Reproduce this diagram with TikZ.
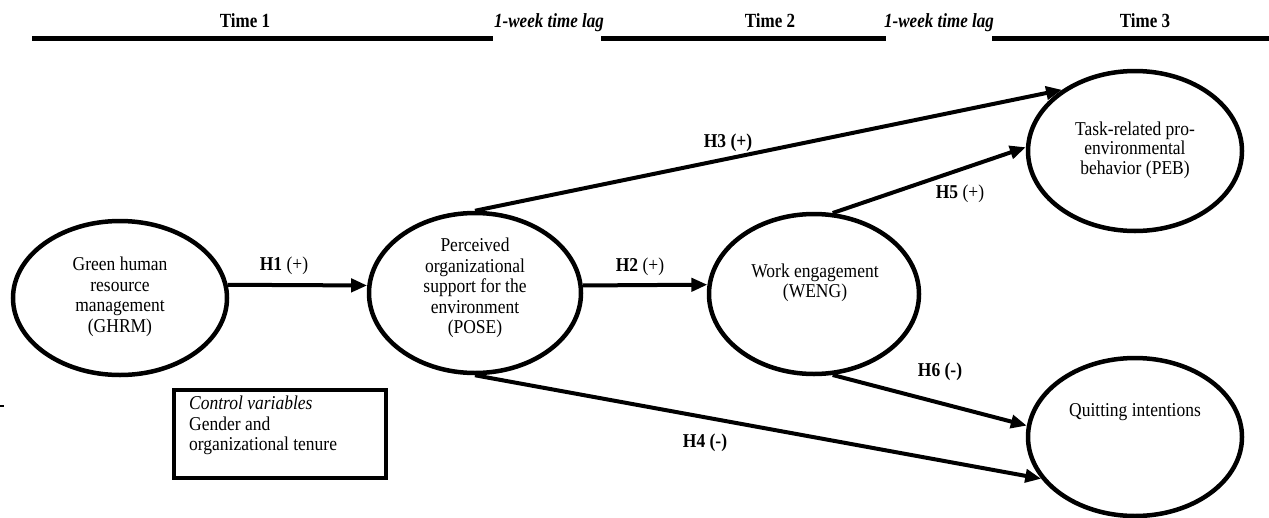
\documentclass[tikz,border=0pt]{standalone}
\usepackage{fontspec}
\usepackage{graphicx}
\setmainfont{Liberation Serif}
\usetikzlibrary{shapes.geometric,arrows.meta}
\newcommand{\tallbody}[1]{\scalebox{1}[1.12]{#1}}
\newcommand{\tallhead}[1]{\scalebox{1}[1.18]{#1}}
\begin{document}
\begin{tikzpicture}[x=1pt,y=-1pt,
  ell/.style={draw, ellipse, line width=4.5pt, inner sep=0pt},
  lbl/.style={font=\fontsize{17.5}{20.5}\selectfont, align=center, inner sep=0pt},
  arr/.style={line width=4pt, -{Triangle[length=16pt,width=13pt]}},
  bar/.style={line width=5pt},
  hd/.style={font=\fontsize{17}{20}\selectfont\bfseries, inner sep=0pt, anchor=base},
  hdi/.style={font=\fontsize{17}{20}\selectfont\bfseries\itshape, inner sep=0pt, anchor=base},
  ]
\useasboundingbox (0,0) rectangle (1269,517);

% time headings
\node[hd]  (t1)   at (245,27) {\tallhead{Time 1}};
\node[hdi] (lag1) at (549,27) {\tallhead{1-week time lag}};
\node[hd]  (t2)   at (770,27) {\tallhead{Time 2}};
\node[hdi] (lag2) at (939,27) {\tallhead{1-week time lag}};
\node[hd]  (t3)   at (1145,27) {\tallhead{Time 3}};
\draw[bar] (32,38) -- (493,38);
\draw[bar] (601,38) -- (886,38);
\draw[bar] (992,38) -- (1269,38);

% ellipses
\node[ell, minimum width=214pt, minimum height=154pt] (ghrm) at (120,298) {};
\node[ell, minimum width=212pt, minimum height=160pt] (pose) at (475,293) {};
\node[ell, minimum width=210pt, minimum height=160pt] (weng) at (814,294) {};
\node[ell, minimum width=214pt, minimum height=160pt] (peb)  at (1135,151) {};
\node[ell, minimum width=214pt, minimum height=158pt] (quit) at (1135,437) {};

\node[lbl] (ghrmt) at (120,297) {\tallbody{Green human}\\\tallbody{resource}\\\tallbody{management}\\\tallbody{(GHRM)}};
\node[lbl] (poset) at (475,288) {\tallbody{Perceived}\\\tallbody{organizational}\\\tallbody{support for the}\\\tallbody{environment}\\\tallbody{(POSE)}};
\node[lbl] (wengt) at (815,283) {\tallbody{Work engagement}\\\tallbody{(WENG)}};
\node[lbl, font=\fontsize{17.5}{19.5}\selectfont] (pebt) at (1135,150) {\tallbody{Task-related pro-}\\\tallbody{environmental}\\\tallbody{behavior (PEB)}};
\node[lbl] (quitt) at (1135,412) {\tallbody{Quitting intentions}};

% arrows
\draw[arr] (ghrm.7) -- (pose.176);
\draw[arr] (pose.4) -- (weng.175);
\draw[arr] (pose.north) -- (peb.140);
\draw[arr] (weng.77) -- (peb.178);
\draw[arr] (pose.south) -- (quit.204);
\draw[arr] (weng.283) -- (quit.174);

% arrow labels
\node[lbl] (h1) at (284,266) {\tallbody{\textbf{H1} (+)}};
\node[lbl] (h2) at (640,267) {\tallbody{\textbf{H2} (+)}};
\node[lbl] (h3) at (728,143) {\tallbody{\textbf{H3 (+)}}};
\node[lbl] (h5) at (960,194) {\tallbody{\textbf{H5} (+)}};
\node[lbl] (h6) at (940,372) {\tallbody{\textbf{H6 (-)}}};
\node[lbl] (h4) at (705,443) {\tallbody{\textbf{H4 (-)}}};

% control variables box
\node[draw, line width=4pt, minimum width=212pt, minimum height=88pt, inner sep=0pt] (ctrl) at (280,434) {};
\node[lbl, align=left, anchor=north west] (ctrlt) at (189,396) {\tallbody{\textit{Control variables}}\\\tallbody{Gender and}\\\tallbody{organizational tenure}};

% small stray dash at left edge
\draw[line width=1.5pt] (0,406) -- (4,406);
\end{tikzpicture}
\end{document}
